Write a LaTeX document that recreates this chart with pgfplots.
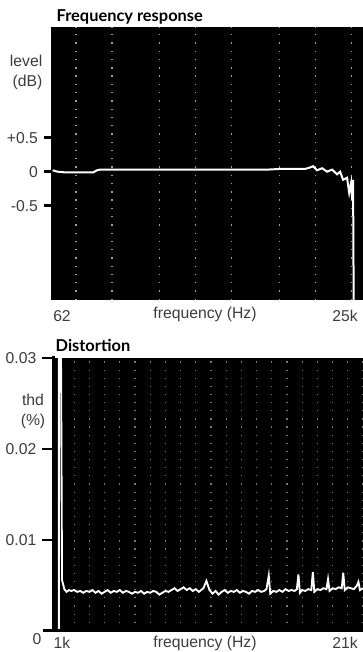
\documentclass[border=0pt]{standalone}
\usepackage{pgfplots}
\pgfplotsset{compat=1.18}
\usepackage{fontspec}
\setmainfont{Liberation Sans}
\newfontfamily\titlefont{Lato}
\definecolor{lab}{RGB}{60,60,60}
\definecolor{dotg}{RGB}{160,160,160}
\definecolor{dotb}{RGB}{120,120,120}
\begin{document}
\begin{tikzpicture}[x=0.75pt,y=0.75pt]
\useasboundingbox (0,0) rectangle (363,652);
% ---------- Frequency response ----------
\begin{axis}[
  at={(38.25pt,264pt)}, anchor=south west,
  scale only axis, width=234pt, height=204.75pt,
  xmode=log, xmin=62, xmax=25000,
  ymin=-1.89, ymax=2.13,
  axis background/.style={fill=black},
  axis line style={draw=none},
  xtick={100,200,500,1000,2000,5000,10000,20000},
  xticklabels={}, major x tick style={draw=none},
  xmajorgrids,
  major grid style={dotg, line width=1pt, dash pattern=on 1pt off 5.2pt},
  ytick={-0.5,0,0.5}, yticklabels={{-0.5},{0},{+0.5}},
  major y tick style={black, line width=2.2pt},
  major tick length=5.25pt, tick align=outside,
  yticklabel style={font=\fontsize{11.8}{13}\selectfont, text=lab, xshift=-1pt},
  clip=true,
]
\addplot[white, line width=1.5pt] coordinates {
(64,0.02) (70,0.0) (80,-0.01) (110,-0.01) (140,-0.01) (150,0.02) (160,0.03)
(300,0.03) (600,0.03) (1000,0.03) (2000,0.03) (4000,0.03) (5078,0.04)
(7000,0.04) (8209,0.04) (9000,0.06) (9573,0.08) (10340,0.02) (11380,0.05)
(12540,0.0) (13810,0.03) (15190,-0.04) (16090,0.0) (17040,-0.12)
(18400,-0.09) (19160,-0.31) (19890,-0.16) (20290,-0.42) (20650,-0.12)
(20900,-1.95)
};
\end{axis}
\node[anchor=base west, font=\titlefont\bfseries\fontsize{12.3}{14}\selectfont] at (52,630) {Frequency response};
\node[anchor=east, text=lab, font=\fontsize{11.8}{13}\selectfont] at (47,591) {level};
\node[anchor=east, text=lab, font=\fontsize{11.8}{13}\selectfont] at (47,570) {(dB)};
\node[text=lab, font=\fontsize{11.8}{13}\selectfont] at (62,336) {62};
\node[text=lab, font=\fontsize{11.8}{13}\selectfont] at (205,338) {frequency (Hz)};
\node[text=lab, font=\fontsize{11.8}{13}\selectfont] at (345,336) {25k};
% ---------- Distortion ----------
\begin{axis}[
  at={(39.75pt,15.75pt)}, anchor=south west,
  scale only axis, width=232.5pt, height=204.75pt,
  xmin=0.605, xmax=21,
  ymin=0, ymax=0.03,
  axis background/.style={fill=black},
  axis line style={draw=none},
  xtick={2,3,...,21},
  xticklabels={}, major x tick style={draw=none},
  xmajorgrids,
  major grid style={dotb, line width=0.9pt, dash pattern=on 0.9pt off 5.2pt},
  ytick={0.01,0.02,0.03}, yticklabels={{0.01},{0.02},{0.03}},
  major y tick style={black, line width=2.2pt},
  major tick length=8pt, tick align=outside,
  yticklabel style={font=\fontsize{11.8}{13}\selectfont, text=lab, xshift=-1pt},
  scaled y ticks=false,
  clip=true,
]
\addplot[white, line width=1.4pt] coordinates {
(0.99,0) (0.99,0.031) (1.13,0.031) (1.2,0.0056) (1.35,0.0046)
(1.5,0.0043) (1.65,0.0045) (1.8,0.0044) (2.0,0.0045) (2.2,0.0043)
(2.4,0.0044) (2.6,0.0042) (2.8,0.0044) (3.0,0.0043) (3.2,0.0045)
(3.4,0.0042) (3.6,0.0044) (3.8,0.0041) (4.0,0.0043) (4.2,0.0045)
(4.4,0.0042) (4.6,0.0044) (4.8,0.0043) (5.0,0.0045) (5.2,0.0042)
(5.4,0.0044) (5.6,0.0043) (5.8,0.0041) (6.0,0.0043) (6.2,0.0042)
(6.4,0.0044) (6.6,0.0041) (6.8,0.0043) (7.0,0.0042) (7.2,0.0044)
(7.4,0.0043) (7.6,0.0040) (7.8,0.0042) (8.0,0.0044) (8.2,0.0043)
(8.4,0.0045) (8.6,0.0047) (8.8,0.0044) (9.0,0.0046) (9.2,0.0048)
(9.4,0.0045) (9.6,0.0047) (9.8,0.0044) (10.0,0.0046) (10.2,0.0043)
(10.5,0.0047) (10.7,0.0055) (10.9,0.0045) (11.1,0.0041) (11.3,0.0044)
(11.5,0.0040) (11.7,0.0043) (11.9,0.0045) (12.1,0.0042) (12.3,0.0044)
(12.5,0.0043) (12.7,0.0045) (12.9,0.0042) (13.1,0.0044) (13.3,0.0043)
(13.5,0.0041) (13.7,0.0044) (13.9,0.0043) (14.1,0.0045) (14.3,0.0043)
(14.5,0.0044) (14.65,0.0046) (14.8,0.0061) (14.9,0.0041) (15.1,0.0044)
(15.3,0.0043) (15.5,0.0045) (15.7,0.0043) (15.9,0.0046) (16.1,0.0044)
(16.3,0.0045) (16.5,0.0044) (16.65,0.0046) (16.75,0.0062) (16.85,0.0042)
(17.0,0.0045) (17.2,0.0044) (17.4,0.0046) (17.6,0.0045) (17.7,0.0065)
(17.8,0.0043) (18.0,0.0046) (18.2,0.0045) (18.4,0.0047) (18.6,0.0046)
(18.7,0.0057) (18.8,0.0044) (19.0,0.0047) (19.2,0.0046) (19.4,0.0048)
(19.6,0.0047) (19.7,0.0064) (19.8,0.0045) (20.0,0.0048) (20.2,0.0047)
(20.4,0.0046) (20.6,0.0050) (20.7,0.0054) (20.8,0.0045) (21.0,0.0047)
};
\end{axis}
\draw[black, line width=2.25pt] (53.5,20) -- (53.5,296);
\draw[black, line width=2.25pt] (43,21) -- (363,21);
\node[anchor=west, font=\titlefont\bfseries\fontsize{12.3}{14}\selectfont] at (51,307) {Distortion};
\node[text=lab, font=\fontsize{11.8}{13}\selectfont] at (33,252) {thd};
\node[text=lab, font=\fontsize{11.8}{13}\selectfont] at (33,231) {(\%)};
\node[text=lab, font=\fontsize{11.8}{13}\selectfont] at (37,13) {0};
\node[text=lab, font=\fontsize{11.8}{13}\selectfont] at (62,9) {1k};
\node[text=lab, font=\fontsize{11.8}{13}\selectfont] at (205,9) {frequency (Hz)};
\node[text=lab, font=\fontsize{11.8}{13}\selectfont] at (345,9) {21k};
\end{tikzpicture}
\end{document}
